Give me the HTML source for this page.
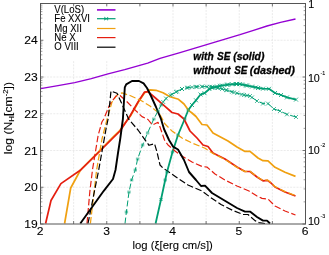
<!DOCTYPE html>
<html><head><meta charset="utf-8"><title>plot</title>
<style>html,body{margin:0;padding:0;background:#fff;}body{width:329px;height:255px;position:relative;overflow:hidden;font-family:"Liberation Sans",sans-serif;}</style>
</head><body>
<svg width="329" height="255" viewBox="0 0 329 255" style="position:absolute;left:0;top:0;opacity:0.999;font-family:'Liberation Sans',sans-serif">
<rect width="329" height="255" fill="#fff"/>
<path d="M73.62,3.5V224.0 M106.75,3.5V224.0 M139.88,3.5V224.0 M173.00,3.5V224.0 M206.12,3.5V224.0 M239.25,3.5V224.0 M272.38,3.5V224.0 M40.5,187.25H305.5 M40.5,150.50H305.5 M40.5,113.75H305.5 M40.5,77.00H305.5 M40.5,40.25H305.5" stroke="#e3e3e3" stroke-width="0.7" stroke-dasharray="2,1.2" fill="none"/>
<path d="M40.50,224.0v-3 M40.50,3.5v3 M73.62,224.0v-3 M73.62,3.5v3 M106.75,224.0v-3 M106.75,3.5v3 M139.88,224.0v-3 M139.88,3.5v3 M173.00,224.0v-3 M173.00,3.5v3 M206.12,224.0v-3 M206.12,3.5v3 M239.25,224.0v-3 M239.25,3.5v3 M272.38,224.0v-3 M272.38,3.5v3 M305.50,224.0v-3 M305.50,3.5v3 M40.5,224.00h3 M40.5,187.25h3 M40.5,150.50h3 M40.5,113.75h3 M40.5,77.00h3 M40.5,40.25h3 M40.5,3.50h3 M305.5,224.00h-3 M305.5,150.50h-3 M305.5,77.00h-3 M305.5,3.50h-3" stroke="#555" stroke-width="0.8" fill="none"/>
<path d="M40.5,212.94h1.9 M40.5,206.47h1.9 M40.5,201.87h1.9 M40.5,198.31h1.9 M40.5,195.40h1.9 M40.5,192.94h1.9 M40.5,190.81h1.9 M40.5,188.93h1.9 M40.5,176.19h1.9 M40.5,169.72h1.9 M40.5,165.12h1.9 M40.5,161.56h1.9 M40.5,158.65h1.9 M40.5,156.19h1.9 M40.5,154.06h1.9 M40.5,152.18h1.9 M40.5,139.44h1.9 M40.5,132.97h1.9 M40.5,128.37h1.9 M40.5,124.81h1.9 M40.5,121.90h1.9 M40.5,119.44h1.9 M40.5,117.31h1.9 M40.5,115.43h1.9 M40.5,102.69h1.9 M40.5,96.22h1.9 M40.5,91.62h1.9 M40.5,88.06h1.9 M40.5,85.15h1.9 M40.5,82.69h1.9 M40.5,80.56h1.9 M40.5,78.68h1.9 M40.5,65.94h1.9 M40.5,59.47h1.9 M40.5,54.87h1.9 M40.5,51.31h1.9 M40.5,48.40h1.9 M40.5,45.94h1.9 M40.5,43.81h1.9 M40.5,41.93h1.9 M40.5,29.19h1.9 M40.5,22.72h1.9 M40.5,18.12h1.9 M40.5,14.56h1.9 M40.5,11.65h1.9 M40.5,9.19h1.9 M40.5,7.06h1.9 M40.5,5.18h1.9 M305.5,201.87h-1.9 M305.5,188.93h-1.9 M305.5,179.75h-1.9 M305.5,172.63h-1.9 M305.5,166.81h-1.9 M305.5,161.89h-1.9 M305.5,157.62h-1.9 M305.5,153.86h-1.9 M305.5,128.37h-1.9 M305.5,115.43h-1.9 M305.5,106.25h-1.9 M305.5,99.13h-1.9 M305.5,93.31h-1.9 M305.5,88.39h-1.9 M305.5,84.12h-1.9 M305.5,80.36h-1.9 M305.5,54.87h-1.9 M305.5,41.93h-1.9 M305.5,32.75h-1.9 M305.5,25.63h-1.9 M305.5,19.81h-1.9 M305.5,14.89h-1.9 M305.5,10.62h-1.9 M305.5,6.86h-1.9" stroke="#777" stroke-width="0.7" fill="none"/>
<rect x="43.7" y="6.7" width="115.3" height="53.8" fill="#fff"/>
<g fill="none" stroke-linejoin="round" stroke-linecap="butt">
<path d="M40.7,88.7 L58.0,85.7 L74.7,82.7 L91.3,78.7 L108.0,73.8 L124.7,69.7 L147.7,63.1 L160.0,58.3 L180.0,52.7 L200.0,46.7 L220.0,40.7 L240.0,34.7 L253.5,30.3 L267.0,26.0 L280.5,22.4 L295.5,19.0" stroke="#9400d3" stroke-width="1.35"/>
<path d="M125.0,223.5 L126.4,212.0 L129.0,192.0 L131.6,180.0 L135.3,170.0 L137.6,159.0 L142.6,145.0 L147.6,133.0 L153.8,119.0 L158.0,111.0 L161.2,105.0 L163.2,102.0 L166.0,98.5 L170.5,95.2 L176.0,92.0 L182.0,89.0 L188.0,87.6 L196.0,86.8 L202.0,86.6 L210.0,86.7 L218.0,88.0 L226.0,90.0 L234.0,92.4 L244.0,95.0 L250.0,96.0 L257.0,101.0 L263.0,103.6 L268.0,103.6 L274.0,109.0 L280.0,111.0 L287.0,114.4 L296.0,117.0" stroke="#009e73" stroke-width="1.0" stroke-dasharray="6,2.6"/>
<path d="M155.6,223.5 L161.0,199.5 L165.2,180.0 L167.0,172.0 L172.5,152.0 L178.0,135.0 L184.7,119.0 L188.3,110.0 L192.0,105.0 L196.0,100.3 L200.5,94.5 L204.5,93.2 L209.4,89.0 L213.0,87.4 L220.0,85.8 L228.0,84.6 L236.0,84.0 L240.0,84.1 L246.0,85.4 L256.0,87.4 L258.0,88.0 L263.0,88.7 L269.0,88.8 L275.0,93.0 L281.0,95.0 L287.0,97.4 L296.0,99.6" stroke="#009e73" stroke-width="1.8"/>
<path d="M64.6,223.5 L70.7,188.0 L80.5,170.0 L100.0,150.3 L112.0,138.1 L120.0,130.3 L126.0,121.8 L130.4,116.0 L138.4,102.0 L144.6,92.8 L148.0,91.2 L150.0,89.8 L156.0,90.3 L163.0,92.8 L170.0,96.7 L178.5,99.3 L184.0,104.0 L188.5,110.3 L192.0,113.0 L196.0,116.5 L202.0,124.5 L207.0,125.0 L213.0,133.0 L228.0,141.0 L237.0,147.0 L245.0,151.4 L250.0,151.4 L258.0,158.0 L263.0,160.7 L268.0,160.9 L275.0,167.3 L285.0,172.3 L295.5,176.4" stroke="#f0a010" stroke-width="1.7"/>
<path d="M45.6,223.5 L51.0,200.5 L60.9,183.6 L81.0,169.7 L100.0,151.0 L112.0,139.0 L120.0,131.0 L126.0,122.0 L130.0,116.0 L138.0,102.0 L144.4,92.2 L148.0,91.7 L156.0,98.5 L165.0,106.3 L172.0,112.5 L178.0,114.0 L184.0,119.0 L190.0,131.0 L197.0,138.0 L203.0,145.0 L208.0,146.5 L213.0,153.0 L225.0,159.0 L237.0,167.0 L245.0,171.5 L250.0,171.5 L257.0,177.0 L263.0,180.8 L267.5,180.4 L271.0,183.0 L275.0,187.0 L285.0,192.0 L295.5,196.0" stroke="#e51e10" stroke-width="1.7"/>
<path d="M90.4,223.5 L96.6,170.0 L102.0,139.0 L107.1,119.0 L112.0,102.0 L117.0,95.0 L122.0,92.9 L130.0,95.5 L141.0,100.5 L150.0,106.0 L155.0,110.0 L159.0,113.0 L165.0,124.0 L172.0,131.0 L182.0,138.0 L192.0,143.0 L202.0,147.0 L205.0,148.3 L213.0,153.5 L225.0,159.5 L237.0,167.4 L245.0,171.6 L250.0,171.3 L257.0,176.6 L263.0,180.4 L267.5,180.0 L271.0,182.6 L275.0,186.6 L285.0,191.6 L295.5,195.6" stroke="#f0a010" stroke-width="1.25" stroke-dasharray="6.5,2.6"/>
<path d="M87.0,223.5 L89.9,191.0 L92.6,169.0 L98.2,135.0 L101.9,122.0 L103.8,119.0 L110.0,104.0 L116.0,96.0 L120.0,95.5 L126.0,100.8 L136.0,110.8 L142.0,116.6 L148.0,119.5 L152.4,125.0 L158.0,122.3 L160.0,127.0 L164.5,140.0 L168.0,145.0 L175.0,151.0 L182.0,156.0 L192.0,162.0 L202.0,166.4 L207.2,167.2 L215.0,174.0 L225.0,180.0 L237.0,186.0 L249.0,191.0 L257.0,196.0 L262.0,198.4 L268.0,199.0 L275.0,206.0 L285.0,211.0 L295.5,215.0" stroke="#e51e10" stroke-width="1.2" stroke-dasharray="6.5,2.6"/>
<path d="M88.0,223.5 L98.7,170.0 L106.0,129.0 L108.1,119.0 L111.0,91.0 L117.0,93.3 L121.5,103.0 L128.6,119.0 L138.0,130.0 L149.0,145.3 L154.5,143.6 L157.0,152.0 L160.0,165.0 L163.0,168.0 L176.0,177.0 L188.0,185.0 L202.0,191.0 L210.0,197.0 L221.0,204.5 L233.0,210.5 L243.0,214.5 L248.0,214.5 L255.0,220.6 L259.0,222.6 L265.0,223.5" stroke="#000000" stroke-width="1.2" stroke-dasharray="6.5,2.6"/>
<path d="M80.3,223.5 L103.8,190.8 L113.0,179.0 L115.5,170.0 L118.0,153.0 L120.2,139.0 L122.9,119.0 L124.8,87.3 L126.2,84.4 L132.0,81.0 L139.0,81.0 L143.6,83.4 L147.0,88.0 L151.0,96.0 L156.0,107.0 L161.0,119.0 L164.0,129.0 L169.0,140.0 L173.0,146.6 L178.0,149.5 L184.0,160.0 L189.0,172.0 L196.0,180.0 L201.0,186.0 L205.0,185.6 L212.0,193.0 L227.0,202.0 L237.0,208.0 L245.0,211.6 L250.0,211.6 L257.0,217.0 L263.0,220.6 L267.0,220.6 L270.0,223.5" stroke="#000000" stroke-width="1.9"/>
</g>
<path d="M124.7,211.2h3.4M124.7,212.8h3.4" stroke="#009e73" stroke-width="0.75" fill="none"/>
<path d="M127.3,191.2h3.4M127.3,192.8h3.4" stroke="#009e73" stroke-width="0.75" fill="none"/>
<path d="M129.9,179.2h3.4M129.9,180.8h3.4" stroke="#009e73" stroke-width="0.75" fill="none"/>
<path d="M133.6,169.2h3.4M133.6,170.8h3.4" stroke="#009e73" stroke-width="0.75" fill="none"/>
<path d="M135.9,158.2h3.4M135.9,159.8h3.4" stroke="#009e73" stroke-width="0.75" fill="none"/>
<path d="M140.9,144.2h3.4M140.9,145.8h3.4" stroke="#009e73" stroke-width="0.75" fill="none"/>
<path d="M145.9,132.2h3.4M145.9,133.8h3.4" stroke="#009e73" stroke-width="0.75" fill="none"/>
<path d="M152.1,118.2h3.4M152.1,119.8h3.4" stroke="#009e73" stroke-width="0.75" fill="none"/>
<path d="M156.3,110.2h3.4M156.3,111.8h3.4" stroke="#009e73" stroke-width="0.75" fill="none"/>
<path d="M159.5,104.2h3.4M159.5,105.8h3.4" stroke="#009e73" stroke-width="0.75" fill="none"/>
<path d="M161.3,100.1L165.1,103.9M161.3,103.9L165.1,100.1" stroke="#009e73" stroke-width="0.75" fill="none"/>
<path d="M164.1,96.6L167.9,100.4M164.1,100.4L167.9,96.6" stroke="#009e73" stroke-width="0.75" fill="none"/>
<path d="M168.6,93.3L172.4,97.1M168.6,97.1L172.4,93.3" stroke="#009e73" stroke-width="0.75" fill="none"/>
<path d="M174.1,90.1L177.9,93.9M174.1,93.9L177.9,90.1" stroke="#009e73" stroke-width="0.75" fill="none"/>
<path d="M180.1,87.1L183.9,90.9M180.1,90.9L183.9,87.1" stroke="#009e73" stroke-width="0.75" fill="none"/>
<path d="M186.1,85.7L189.9,89.5M186.1,89.5L189.9,85.7" stroke="#009e73" stroke-width="0.75" fill="none"/>
<path d="M194.1,84.9L197.9,88.7M194.1,88.7L197.9,84.9" stroke="#009e73" stroke-width="0.75" fill="none"/>
<path d="M200.1,84.7L203.9,88.5M200.1,88.5L203.9,84.7" stroke="#009e73" stroke-width="0.75" fill="none"/>
<path d="M208.1,84.8L211.9,88.6M208.1,88.6L211.9,84.8" stroke="#009e73" stroke-width="0.75" fill="none"/>
<path d="M216.1,86.1L219.9,89.9M216.1,89.9L219.9,86.1" stroke="#009e73" stroke-width="0.75" fill="none"/>
<path d="M224.1,88.1L227.9,91.9M224.1,91.9L227.9,88.1" stroke="#009e73" stroke-width="0.75" fill="none"/>
<path d="M232.1,90.5L235.9,94.3M232.1,94.3L235.9,90.5" stroke="#009e73" stroke-width="0.75" fill="none"/>
<path d="M242.1,93.1L245.9,96.9M242.1,96.9L245.9,93.1" stroke="#009e73" stroke-width="0.75" fill="none"/>
<path d="M248.1,94.1L251.9,97.9M248.1,97.9L251.9,94.1" stroke="#009e73" stroke-width="0.75" fill="none"/>
<path d="M255.1,99.1L258.9,102.9M255.1,102.9L258.9,99.1" stroke="#009e73" stroke-width="0.75" fill="none"/>
<path d="M261.1,101.7L264.9,105.5M261.1,105.5L264.9,101.7" stroke="#009e73" stroke-width="0.75" fill="none"/>
<path d="M266.1,101.7L269.9,105.5M266.1,105.5L269.9,101.7" stroke="#009e73" stroke-width="0.75" fill="none"/>
<path d="M272.1,107.1L275.9,110.9M272.1,110.9L275.9,107.1" stroke="#009e73" stroke-width="0.75" fill="none"/>
<path d="M278.1,109.1L281.9,112.9M278.1,112.9L281.9,109.1" stroke="#009e73" stroke-width="0.75" fill="none"/>
<path d="M285.1,112.5L288.9,116.3M285.1,116.3L288.9,112.5" stroke="#009e73" stroke-width="0.75" fill="none"/>
<path d="M294.1,115.1L297.9,118.9M294.1,118.9L297.9,115.1" stroke="#009e73" stroke-width="0.75" fill="none"/>
<path d="M170.1,92.4L173.9,96.2M170.1,96.2L173.9,92.4" stroke="#009e73" stroke-width="0.75" fill="none"/>
<path d="M175.1,89.6L178.9,93.4M175.1,93.4L178.9,89.6" stroke="#009e73" stroke-width="0.75" fill="none"/>
<path d="M180.1,87.1L183.9,90.9M180.1,90.9L183.9,87.1" stroke="#009e73" stroke-width="0.75" fill="none"/>
<path d="M185.1,85.9L188.9,89.7M185.1,89.7L188.9,85.9" stroke="#009e73" stroke-width="0.75" fill="none"/>
<path d="M190.1,85.3L193.9,89.1M190.1,89.1L193.9,85.3" stroke="#009e73" stroke-width="0.75" fill="none"/>
<path d="M195.1,84.9L198.9,88.7M195.1,88.7L198.9,84.9" stroke="#009e73" stroke-width="0.75" fill="none"/>
<path d="M200.1,84.7L203.9,88.5M200.1,88.5L203.9,84.7" stroke="#009e73" stroke-width="0.75" fill="none"/>
<path d="M205.1,84.8L208.9,88.6M205.1,88.6L208.9,84.8" stroke="#009e73" stroke-width="0.75" fill="none"/>
<path d="M210.1,85.1L213.9,88.9M210.1,88.9L213.9,85.1" stroke="#009e73" stroke-width="0.75" fill="none"/>
<path d="M215.1,85.9L218.9,89.7M215.1,89.7L218.9,85.9" stroke="#009e73" stroke-width="0.75" fill="none"/>
<path d="M220.1,87.1L223.9,90.9M220.1,90.9L223.9,87.1" stroke="#009e73" stroke-width="0.75" fill="none"/>
<path d="M225.1,88.4L228.9,92.2M225.1,92.2L228.9,88.4" stroke="#009e73" stroke-width="0.75" fill="none"/>
<path d="M230.1,89.9L233.9,93.7M230.1,93.7L233.9,89.9" stroke="#009e73" stroke-width="0.75" fill="none"/>
<path d="M235.1,91.3L238.9,95.1M235.1,95.1L238.9,91.3" stroke="#009e73" stroke-width="0.75" fill="none"/>
<path d="M240.1,92.6L243.9,96.4M240.1,96.4L243.9,92.6" stroke="#009e73" stroke-width="0.75" fill="none"/>
<path d="M245.1,93.6L248.9,97.4M245.1,97.4L248.9,93.6" stroke="#009e73" stroke-width="0.75" fill="none"/>
<path d="M250.1,95.5L253.9,99.3M250.1,99.3L253.9,95.5" stroke="#009e73" stroke-width="0.75" fill="none"/>
<path d="M159.3,198.7h3.4M159.3,200.3h3.4" stroke="#009e73" stroke-width="0.8" fill="none"/>
<path d="M163.5,179.2h3.4M163.5,180.8h3.4" stroke="#009e73" stroke-width="0.8" fill="none"/>
<path d="M165.3,171.2h3.4M165.3,172.8h3.4" stroke="#009e73" stroke-width="0.8" fill="none"/>
<path d="M170.8,151.2h3.4M170.8,152.8h3.4" stroke="#009e73" stroke-width="0.8" fill="none"/>
<path d="M176.3,134.2h3.4M176.3,135.8h3.4" stroke="#009e73" stroke-width="0.8" fill="none"/>
<path d="M183.0,118.2h3.4M183.0,119.8h3.4" stroke="#009e73" stroke-width="0.8" fill="none"/>
<path d="M186.6,109.2h3.4M186.6,110.8h3.4" stroke="#009e73" stroke-width="0.8" fill="none"/>
<path d="M190.0,103.0L194.0,107.0M190.0,107.0L194.0,103.0" stroke="#009e73" stroke-width="0.8" fill="none"/>
<path d="M194.0,98.3L198.0,102.3M194.0,102.3L198.0,98.3" stroke="#009e73" stroke-width="0.8" fill="none"/>
<path d="M198.5,92.5L202.5,96.5M198.5,96.5L202.5,92.5" stroke="#009e73" stroke-width="0.8" fill="none"/>
<path d="M202.5,91.2L206.5,95.2M202.5,95.2L206.5,91.2" stroke="#009e73" stroke-width="0.8" fill="none"/>
<path d="M207.4,87.0L211.4,91.0M207.4,91.0L211.4,87.0" stroke="#009e73" stroke-width="0.8" fill="none"/>
<path d="M211.0,85.4L215.0,89.4M211.0,89.4L215.0,85.4" stroke="#009e73" stroke-width="0.8" fill="none"/>
<path d="M218.0,83.8L222.0,87.8M218.0,87.8L222.0,83.8" stroke="#009e73" stroke-width="0.8" fill="none"/>
<path d="M226.0,82.6L230.0,86.6M226.0,86.6L230.0,82.6" stroke="#009e73" stroke-width="0.8" fill="none"/>
<path d="M234.0,82.0L238.0,86.0M234.0,86.0L238.0,82.0" stroke="#009e73" stroke-width="0.8" fill="none"/>
<path d="M238.0,82.1L242.0,86.1M238.0,86.1L242.0,82.1" stroke="#009e73" stroke-width="0.8" fill="none"/>
<path d="M244.0,83.4L248.0,87.4M244.0,87.4L248.0,83.4" stroke="#009e73" stroke-width="0.8" fill="none"/>
<path d="M254.0,85.4L258.0,89.4M254.0,89.4L258.0,85.4" stroke="#009e73" stroke-width="0.8" fill="none"/>
<path d="M256.0,86.0L260.0,90.0M256.0,90.0L260.0,86.0" stroke="#009e73" stroke-width="0.8" fill="none"/>
<path d="M261.0,86.7L265.0,90.7M261.0,90.7L265.0,86.7" stroke="#009e73" stroke-width="0.8" fill="none"/>
<path d="M267.0,86.8L271.0,90.8M267.0,90.8L271.0,86.8" stroke="#009e73" stroke-width="0.8" fill="none"/>
<path d="M273.0,91.0L277.0,95.0M273.0,95.0L277.0,91.0" stroke="#009e73" stroke-width="0.8" fill="none"/>
<path d="M279.0,93.0L283.0,97.0M279.0,97.0L283.0,93.0" stroke="#009e73" stroke-width="0.8" fill="none"/>
<path d="M285.0,95.4L289.0,99.4M285.0,99.4L289.0,95.4" stroke="#009e73" stroke-width="0.8" fill="none"/>
<path d="M294.0,97.6L298.0,101.6M294.0,101.6L298.0,97.6" stroke="#009e73" stroke-width="0.8" fill="none"/>
<path d="M210.0,85.8L214.0,89.8M210.0,89.8L214.0,85.8" stroke="#009e73" stroke-width="0.8" fill="none"/>
<path d="M215.0,84.5L219.0,88.5M215.0,88.5L219.0,84.5" stroke="#009e73" stroke-width="0.8" fill="none"/>
<path d="M220.0,83.5L224.0,87.5M220.0,87.5L224.0,83.5" stroke="#009e73" stroke-width="0.8" fill="none"/>
<path d="M225.0,82.8L229.0,86.8M225.0,86.8L229.0,82.8" stroke="#009e73" stroke-width="0.8" fill="none"/>
<path d="M230.0,82.3L234.0,86.3M230.0,86.3L234.0,82.3" stroke="#009e73" stroke-width="0.8" fill="none"/>
<path d="M235.0,82.0L239.0,86.0M235.0,86.0L239.0,82.0" stroke="#009e73" stroke-width="0.8" fill="none"/>
<path d="M240.0,82.5L244.0,86.5M240.0,86.5L244.0,82.5" stroke="#009e73" stroke-width="0.8" fill="none"/>
<path d="M245.0,83.6L249.0,87.6M245.0,87.6L249.0,83.6" stroke="#009e73" stroke-width="0.8" fill="none"/>
<path d="M250.0,84.6L254.0,88.6M250.0,88.6L254.0,84.6" stroke="#009e73" stroke-width="0.8" fill="none"/>
<rect x="40.5" y="3.5" width="265.0" height="220.5" fill="none" stroke="#555" stroke-width="1"/>
<path d="M97,9.9H115.5" stroke="#9400d3" stroke-width="1.6"/>
<path d="M97,18.7H115.5" stroke="#009e73" stroke-width="1.2"/>
<path d="M97,28.5H115.5" stroke="#f0a010" stroke-width="1.2"/>
<path d="M97,37.6H115.5" stroke="#e51e10" stroke-width="1.2"/>
<path d="M97,47.2H115.5" stroke="#000000" stroke-width="1.2"/>
<path d="M104.6,17.2V20.2L107.8,17.2V20.2Z" fill="#009e73" fill-opacity="0.55" stroke="#009e73" stroke-width="0.6"/>
<g style="filter:grayscale(1)">
<text transform="translate(54.3,12.70) scale(0.94,1)" font-size="10.2" fill="#000" stroke="#000" stroke-width="0.1">V(LoS)</text>
<text transform="translate(54.3,22.13) scale(0.94,1)" font-size="10.2" fill="#000" stroke="#000" stroke-width="0.1">Fe XXVI</text>
<text transform="translate(54.3,31.56) scale(0.94,1)" font-size="10.2" fill="#000" stroke="#000" stroke-width="0.1">Mg XII</text>
<text transform="translate(54.3,40.99) scale(0.94,1)" font-size="10.2" fill="#000" stroke="#000" stroke-width="0.1">Ne X</text>
<text transform="translate(54.3,50.42) scale(0.94,1)" font-size="10.2" fill="#000" stroke="#000" stroke-width="0.1">O VIII</text>
<text transform="translate(40.2,235.4) scale(1.08,1)" font-size="11.2" text-anchor="middle" fill="#000" stroke="#000" stroke-width="0.1">2</text>
<text transform="translate(106.5,235.4) scale(1.08,1)" font-size="11.2" text-anchor="middle" fill="#000" stroke="#000" stroke-width="0.1">3</text>
<text transform="translate(172.7,235.4) scale(1.08,1)" font-size="11.2" text-anchor="middle" fill="#000" stroke="#000" stroke-width="0.1">4</text>
<text transform="translate(238.9,235.4) scale(1.08,1)" font-size="11.2" text-anchor="middle" fill="#000" stroke="#000" stroke-width="0.1">5</text>
<text transform="translate(305.2,235.4) scale(1.08,1)" font-size="11.2" text-anchor="middle" fill="#000" stroke="#000" stroke-width="0.1">6</text>
<text transform="translate(37.8,228.1) scale(1.08,1)" font-size="11.2" text-anchor="end" fill="#000" stroke="#000" stroke-width="0.1">19</text>
<text transform="translate(37.8,191.3) scale(1.08,1)" font-size="11.2" text-anchor="end" fill="#000" stroke="#000" stroke-width="0.1">20</text>
<text transform="translate(37.8,154.6) scale(1.08,1)" font-size="11.2" text-anchor="end" fill="#000" stroke="#000" stroke-width="0.1">21</text>
<text transform="translate(37.8,117.8) scale(1.08,1)" font-size="11.2" text-anchor="end" fill="#000" stroke="#000" stroke-width="0.1">22</text>
<text transform="translate(37.8,81.1) scale(1.08,1)" font-size="11.2" text-anchor="end" fill="#000" stroke="#000" stroke-width="0.1">23</text>
<text transform="translate(37.8,44.4) scale(1.08,1)" font-size="11.2" text-anchor="end" fill="#000" stroke="#000" stroke-width="0.1">24</text>
<text transform="translate(308.2,7.9) scale(0.96,1)" font-size="11.2" fill="#000" stroke="#000" stroke-width="0.1">1</text>
<text transform="translate(307.9,224.6) scale(0.96,1)" font-size="11.2" fill="#000" stroke="#000" stroke-width="0.1">10<tspan dy="-7.0" dx="0.6" font-size="5.6">-3</tspan></text>
<text transform="translate(307.9,154.1) scale(0.96,1)" font-size="11.2" fill="#000" stroke="#000" stroke-width="0.1">10<tspan dy="-7.0" dx="0.6" font-size="5.6">-2</tspan></text>
<text transform="translate(307.9,82.2) scale(0.96,1)" font-size="11.2" fill="#000" stroke="#000" stroke-width="0.1">10<tspan dy="-7.0" dx="0.6" font-size="5.6">-1</tspan></text>
<text x="193.3" y="59.9" textLength="20.3" font-size="10.6" font-weight="bold" font-style="italic" fill="#000" stroke="#000" stroke-width="0.3" lengthAdjust="spacingAndGlyphs">with</text>
<text x="217.0" y="59.9" textLength="13.4" font-size="10.6" font-weight="bold" font-style="italic" fill="#000" stroke="#000" stroke-width="0.3" lengthAdjust="spacingAndGlyphs">SE</text>
<text x="233.2" y="59.9" textLength="31.2" font-size="10.6" font-weight="bold" font-style="italic" fill="#000" stroke="#000" stroke-width="0.3" lengthAdjust="spacingAndGlyphs">(solid)</text>
<text x="193.3" y="74.0" textLength="37.2" font-size="10.6" font-weight="bold" font-style="italic" fill="#000" stroke="#000" stroke-width="0.3" lengthAdjust="spacingAndGlyphs">without</text>
<text x="234.2" y="74.0" textLength="13.2" font-size="10.6" font-weight="bold" font-style="italic" fill="#000" stroke="#000" stroke-width="0.3" lengthAdjust="spacingAndGlyphs">SE</text>
<text x="249.8" y="74.0" textLength="45.0" font-size="10.6" font-weight="bold" font-style="italic" fill="#000" stroke="#000" stroke-width="0.3" lengthAdjust="spacingAndGlyphs">(dashed)</text>
<text x="172.7" y="249.3" font-size="11.3" text-anchor="middle" fill="#000" stroke="#000" stroke-width="0.1">log (ξ[erg cm/s])</text>
<text transform="translate(12.2,118.1) rotate(-90) scale(1.06,1)" font-size="11.5" text-anchor="middle" fill="#000" stroke="#000" stroke-width="0.1">log (N<tspan dy="2.2" font-size="7.5">H</tspan><tspan dy="-2.2">[cm</tspan><tspan dy="-4.0" font-size="7.2">-2</tspan><tspan dy="4.0">])</tspan></text>
</g>
</svg>
</body></html>
